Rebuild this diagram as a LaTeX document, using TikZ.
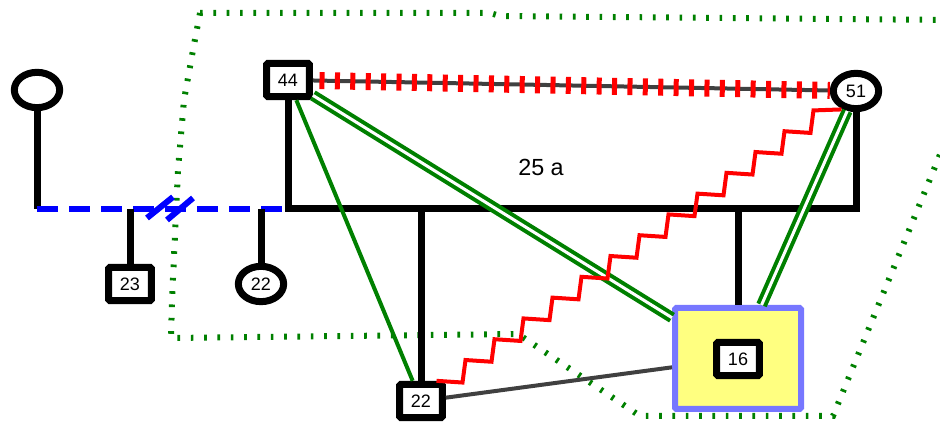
\documentclass[tikz,border=0pt]{standalone}
\usepackage{fontspec}
\setmainfont{Liberation Sans}
\usetikzlibrary{shapes.geometric}
\definecolor{kin}{RGB}{0,128,0}
\definecolor{boxfill}{RGB}{255,255,128}
\definecolor{boxline}{RGB}{119,119,255}
\definecolor{tie}{RGB}{64,64,64}

\begin{document}
\begin{tikzpicture}[x=0.75pt,y=-0.75pt,
  every node/.style={font=\fontsize{13.5}{15}\selectfont},
  sq/.style={draw,rectangle,rounded corners=1pt,line width=5.25pt,fill=white,minimum width=32pt,minimum height=25pt,inner sep=0pt},
  ci/.style={draw,ellipse,line width=5.25pt,fill=white,minimum width=34pt,minimum height=26.5pt,inner sep=0pt},
  bar/.style={line width=5.25pt},
  dbl/.style={draw=kin,double=white,double distance=2.25pt,line width=3pt},
  zone/.style={kin,line width=4.5pt,dash pattern=on 2pt off 8pt}]
\useasboundingbox (0,0) rectangle (940,423);
% group outline
\draw[zone] (200,13) -- (490,13) -- (500,16) -- (950,20);
\draw[zone] (200,13) -- (193,50) -- (184,100) -- (178,170) -- (172,300) -- (171,338) -- (518,334) -- (640,416) -- (833,416) -- (948,135);
% persons
\node[ci] (fl) at (37,90) {};
\node[sq] (c23) at (130,284) {23};
\node[ci] (g22) at (261,284) {22};
\node[sq] (n44) at (288,80) {44};
\node[ci] (n51) at (856,91) {51};
\node[sq] (b22) at (421,401) {22};
\node[draw=boxline,fill=boxfill,line width=4.5pt,rounded corners=1pt,minimum width=94.5pt,minimum height=75.75pt] (grp) at (738,358.5) {};
\node[sq] (n16) at (738,359) {16};
\node[font=\fontsize{17.5}{20}\selectfont] (lbl) at (541,167) {25 a};
\coordinate (ml) at (150,209);
\coordinate (mm) at (540,209);
% first couple
\draw[bar] (fl.south) -- (fl.south |- ml);
\draw[blue,line width=4.5pt,dash pattern=on 15.75pt off 8.25pt] (fl.south |- ml) -- (n44.south |- ml);
\draw[blue,line width=4.5pt] (147,218) -- (173,197) (167,220) -- (193,198);
\draw[bar] (c23.north |- ml) -- (c23.north);
\draw[bar] (g22.north |- ml) -- (g22.north);
% second couple
\draw[bar] (n44.south) |- (n51.south |- mm) -- (n51.south);
\draw[bar] (b22.north |- mm) -- (b22.north);
\draw[bar] (grp.north |- mm) -- (grp.north);
% relations
\draw[tie,line width=3pt] (b22) -- (grp);
\draw[kin,line width=3pt] (n44) -- (b22);
\draw[dbl] (n44) -- (grp);
\draw[dbl] (n51) -- (grp);
\draw[tie,line width=3pt] (n44) -- (n51);
\draw[red,line width=12.75pt,dash pattern=on 3.75pt off 7.8pt,dash phase=-5pt] (n44) -- (n51);
\draw[red,line width=3pt] ([xshift=-7pt]b22.north east) \foreach \s in {1,...,13}{ -- ++(26,1.7) -- ++(3,-22.5)} -- ++(28,-1);
\end{tikzpicture}
\end{document}
